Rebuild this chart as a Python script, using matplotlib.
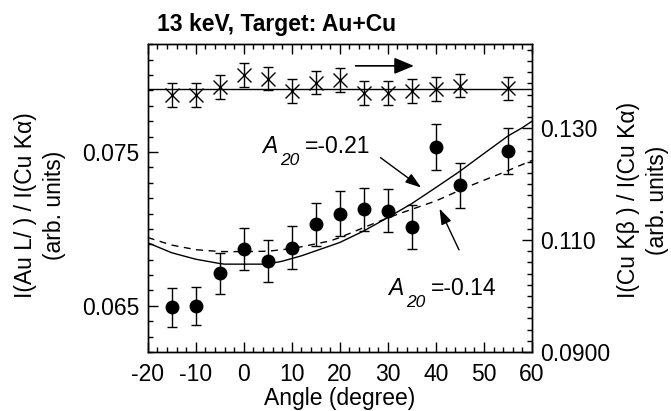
import matplotlib
matplotlib.use("Agg")
import matplotlib.pyplot as plt
from matplotlib.ticker import MultipleLocator

plt.rcParams['font.family'] = ['Liberation Sans', 'DejaVu Sans']
plt.rcParams['axes.unicode_minus'] = False

# measured points
angles = [-15, -10, -5, 0, 5, 10, 15, 20, 25, 30, 35, 40, 45, 55]
au_ratio = [0.0649, 0.0650, 0.06712, 0.06868, 0.06792, 0.06879, 0.07031,
            0.0710, 0.07128, 0.07117, 0.07013, 0.07532, 0.07284, 0.07506]
au_err = [0.00127, 0.00125, 0.00134, 0.00138, 0.00138, 0.00142, 0.0014,
          0.00145, 0.0014, 0.0014, 0.00143, 0.0015, 0.00145, 0.0015]
kb_ratio = [0.13597, 0.13597, 0.1374, 0.13954, 0.13885, 0.13661, 0.13817,
            0.13865, 0.13633, 0.13633, 0.13665, 0.13697, 0.13763, 0.1371]
kb_err = [0.0021, 0.0021, 0.0021, 0.0021, 0.0021, 0.0021, 0.0021,
          0.0021, 0.0021, 0.0021, 0.0021, 0.0021, 0.0021, 0.0021]
kb_level = 0.13704

# model curves
fit1_x = [-20, -15, -10, -5, -4, 5, 8, 12, 18, 20, 25, 30, 35, 40, 45, 50, 55, 58, 60]
fit1_y = [0.06910, 0.06845, 0.06803, 0.06775, 0.06771, 0.06771, 0.06790, 0.06825,
          0.0689, 0.06912, 0.06987, 0.07074, 0.07165, 0.07269, 0.07375, 0.0749,
          0.07604, 0.07658, 0.0770]
fit2_x = [-20, -15, -10, -5, 0, 5, 10, 13, 18, 20, 25, 30, 32, 40, 47, 54, 60]
fit2_y = [0.06944, 0.06895, 0.06865, 0.06853, 0.06852, 0.06855, 0.06872, 0.0689,
          0.06922, 0.06944, 0.07009, 0.07072, 0.07095, 0.07182, 0.07279, 0.07366,
          0.07445]

a20_values = ['=-0.21', '=-0.14']
a20_text_xy = [(3.75, 0.07496), (30.1, 0.06569)]
a20_arrow_tail = [(28.0, 0.07474), (45.06, 0.06847)]
a20_arrow_head = [(37.4, 0.07258), (40.5, 0.07149)]

fig = plt.figure(figsize=(6.71, 4.11), dpi=100)
ax = fig.add_axes([0.2201, 0.1436, 0.5727, 0.7486])
ax2 = ax.twinx()

ax.plot(fit1_x, fit1_y, color='k', lw=1.0)
ax.plot(fit2_x, fit2_y, color='k', lw=1.0, ls=(0, (5, 4)))
ax.errorbar(angles, au_ratio, yerr=au_err, fmt='o', color='k', ms=9,
            elinewidth=1.0, capsize=3.5, capthick=1.0)

ax2.axhline(kb_level, color='k', lw=1.0)
ax2.errorbar(angles, kb_ratio, yerr=kb_err, fmt='x', color='k', ms=10, mew=1.0,
             elinewidth=1.0, capsize=3.5, capthick=1.0)
ax2.annotate('', xy=(36.0, 0.14115), xytext=(22.7, 0.14115),
             arrowprops=dict(arrowstyle='-|>,head_length=0.6,head_width=0.25',
                             color='k', lw=1.2, mutation_scale=20))

ax.set_xlim(-20, 60)
ax.set_ylim(0.062, 0.082)
ax2.set_ylim(0.090, 0.145)

ax.set_xticks(range(-20, 61, 10))
ax.xaxis.set_minor_locator(MultipleLocator(2))
ax.set_yticks([0.065, 0.075], labels=['0.065', '0.075'])
ax.yaxis.set_minor_locator(MultipleLocator(0.001))
ax2.set_yticks([0.09, 0.11, 0.13], labels=['0.0900', '0.110', '0.130'])
ax2.yaxis.set_minor_locator(MultipleLocator(0.002))

ax.tick_params(which='both', direction='in', top=True, right=False, labelsize=16.5, width=1)
ax.tick_params(which='major', length=7)
ax.tick_params(which='minor', length=3.5)
ax.tick_params(axis='x', which='major', pad=8)
ax.tick_params(axis='y', which='major', pad=6)
ax2.tick_params(which='both', direction='in', labelsize=16.5, width=1)
ax2.tick_params(which='major', length=7, pad=6)
ax2.tick_params(which='minor', length=3.5)
for a in (ax, ax2):
    for s in a.spines.values():
        s.set_linewidth(1.0)

ax.set_xlabel('Angle (degree)', fontsize=16.5, labelpad=1)

# A20 labels: italic A, large italic subscript 20, then the value
for val, xy, tail, head in zip(a20_values, a20_text_xy, a20_arrow_tail, a20_arrow_head):
    ax.annotate('A', xy=xy, fontsize=16.5, style='italic', va='baseline')
    ax.annotate('20', xy=xy, xytext=(18, -12), textcoords='offset pixels',
                fontsize=12.5, style='italic', va='baseline')
    ax.annotate(val, xy=xy, xytext=(43, 0), textcoords='offset pixels',
                fontsize=16.5, va='baseline')
    ax.annotate('', xy=head, xytext=tail,
                arrowprops=dict(arrowstyle='-|>,head_length=0.6,head_width=0.2',
                                color='k', lw=1.0, mutation_scale=16))

fig.text(157 / 671, 1 - 25 / 411, '13 keV, Target: Au+Cu', fontsize=16.5,
         fontweight='bold', ha='left', va='center')
fig.text(40 / 671, 1 - 205 / 411, 'I(Au L/ ) / I(Cu Kα)\n(arb. units)', fontsize=16.5,
         rotation=90, ha='center', va='center', multialignment='center', linespacing=1.3)
fig.text(643 / 671, 1 - 200 / 411, 'I(Cu Kβ ) / I(Cu Kα)\n(arb. units)', fontsize=16.5,
         rotation=90, ha='center', va='center', multialignment='center', linespacing=1.3)

fig.savefig('out.png', dpi=100)
